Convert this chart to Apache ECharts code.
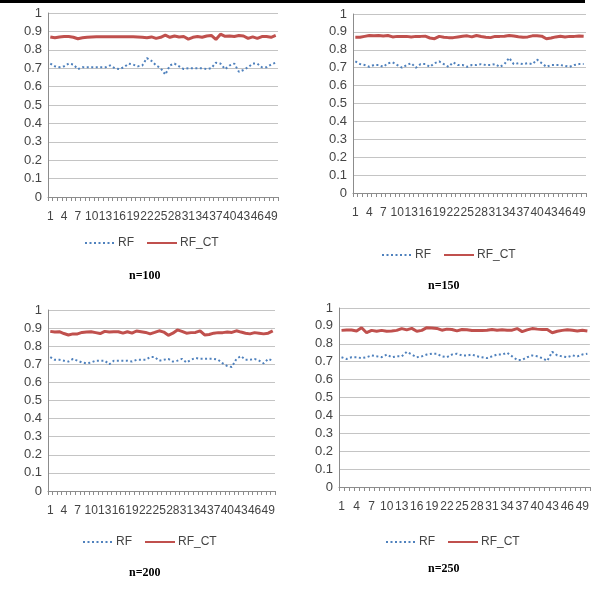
<!DOCTYPE html>
<html>
<head>
<meta charset="utf-8">
<script src="https://cdn.jsdelivr.net/npm/echarts@6/dist/echarts.min.js"></script>
<style>
html,body{margin:0;padding:0;background:#fff;}
#chart{width:592px;height:603px;}
</style>
</head>
<body>
<div id="chart"></div>
<script>
const categories = ['1','2','3','4','5','6','7','8','9','10','11','12','13','14','15','16','17','18','19','20','21','22','23','24','25','26','27','28','29','30','31','32','33','34','35','36','37','38','39','40','41','42','43','44','45','46','47','48','49','50'];
const seriesNames = ['RF', 'RF_CT'];
const panelTitles = ['n=100', 'n=150', 'n=200', 'n=250'];

const rf100 = [0.725,0.71,0.705,0.71,0.725,0.72,0.695,0.705,0.705,0.705,0.705,0.705,0.705,0.715,0.70,0.695,0.705,0.725,0.72,0.71,0.715,0.755,0.74,0.715,0.70,0.665,0.715,0.725,0.71,0.695,0.70,0.70,0.70,0.70,0.695,0.70,0.73,0.725,0.695,0.715,0.725,0.68,0.69,0.705,0.725,0.725,0.705,0.705,0.72,0.73];
const rfct100 = [0.87,0.865,0.87,0.872,0.872,0.868,0.86,0.865,0.868,0.87,0.871,0.871,0.871,0.871,0.871,0.871,0.871,0.871,0.871,0.87,0.868,0.865,0.87,0.862,0.868,0.88,0.868,0.875,0.87,0.872,0.858,0.868,0.872,0.868,0.875,0.878,0.856,0.885,0.873,0.875,0.872,0.878,0.875,0.862,0.87,0.862,0.872,0.872,0.868,0.878];

const rf150 = [0.735,0.72,0.715,0.705,0.715,0.715,0.705,0.725,0.73,0.715,0.70,0.715,0.725,0.70,0.72,0.72,0.705,0.725,0.735,0.72,0.705,0.73,0.715,0.715,0.705,0.715,0.715,0.72,0.715,0.715,0.72,0.705,0.72,0.755,0.72,0.725,0.72,0.725,0.72,0.745,0.725,0.705,0.715,0.715,0.715,0.71,0.705,0.715,0.72,0.72];
const rfct150 = [0.87,0.87,0.875,0.88,0.878,0.88,0.877,0.88,0.872,0.875,0.875,0.875,0.872,0.875,0.875,0.876,0.866,0.862,0.875,0.87,0.868,0.868,0.872,0.876,0.878,0.872,0.88,0.874,0.87,0.868,0.875,0.875,0.876,0.88,0.877,0.873,0.87,0.872,0.878,0.878,0.876,0.862,0.866,0.872,0.876,0.872,0.875,0.875,0.877,0.876];

const rf200 = [0.74,0.725,0.725,0.72,0.715,0.73,0.72,0.71,0.705,0.71,0.72,0.72,0.72,0.70,0.72,0.72,0.72,0.72,0.715,0.725,0.725,0.725,0.74,0.74,0.72,0.725,0.73,0.715,0.72,0.73,0.71,0.725,0.735,0.73,0.73,0.73,0.73,0.725,0.705,0.69,0.685,0.73,0.745,0.725,0.725,0.73,0.72,0.705,0.73,0.72];
const rfct200 = [0.882,0.878,0.88,0.87,0.862,0.868,0.868,0.876,0.878,0.88,0.875,0.87,0.882,0.878,0.88,0.88,0.872,0.88,0.872,0.884,0.88,0.876,0.868,0.876,0.885,0.878,0.86,0.872,0.89,0.882,0.872,0.875,0.876,0.885,0.862,0.865,0.872,0.875,0.875,0.878,0.876,0.885,0.878,0.872,0.868,0.875,0.872,0.868,0.872,0.885];

const rf250 = [0.725,0.715,0.725,0.725,0.72,0.725,0.735,0.73,0.725,0.74,0.725,0.73,0.73,0.755,0.74,0.725,0.73,0.74,0.745,0.745,0.73,0.725,0.74,0.745,0.735,0.735,0.74,0.73,0.725,0.72,0.73,0.74,0.74,0.75,0.73,0.71,0.71,0.725,0.735,0.73,0.72,0.705,0.755,0.735,0.73,0.725,0.735,0.73,0.74,0.745];
const rfct250 = [0.875,0.877,0.877,0.872,0.89,0.862,0.875,0.87,0.875,0.87,0.872,0.875,0.885,0.878,0.886,0.87,0.875,0.89,0.888,0.886,0.876,0.882,0.88,0.872,0.88,0.878,0.874,0.874,0.874,0.876,0.88,0.876,0.878,0.876,0.876,0.885,0.868,0.878,0.885,0.882,0.88,0.88,0.862,0.87,0.875,0.878,0.876,0.872,0.876,0.872];

const panels = [
  {rf: rf100, ct: rfct100, title: panelTitles[0], grid:{left:48, top:13, width:230, height:184}, legend:{left:84, top:237}, titlePos:{left:129, top:270}},
  {rf: rf150, ct: rfct150, title: panelTitles[1], grid:{left:353, top:14, width:233, height:179}, legend:{left:381, top:249}, titlePos:{left:428, top:280}},
  {rf: rf200, ct: rfct200, title: panelTitles[2], grid:{left:48, top:310, width:227, height:181}, legend:{left:82, top:536}, titlePos:{left:129, top:567}},
  {rf: rf250, ct: rfct250, title: panelTitles[3], grid:{left:339, top:308, width:254, height:179}, legend:{left:385, top:536}, titlePos:{left:428, top:563}}
];

const axisGray = '#8c8c8c';
const textGray = '#444';
const option = {
  animation: false,
  backgroundColor: '#fff',
  grid: [], xAxis: [], yAxis: [], series: [], legend: [], title: [],
  graphic: [{type:'rect', shape:{x:0, y:0, width:585, height:3}, style:{fill:'#000'}}]
};

panels.forEach((p, i) => {
  option.grid.push(Object.assign({containLabel:false}, p.grid));
  option.xAxis.push({
    type:'category', gridIndex:i, data:categories, boundaryGap:true,
    axisLine:{lineStyle:{color:axisGray, width:1}},
    axisTick:{show:true, interval:0, length:4, lineStyle:{color:axisGray}},
    axisLabel:{interval:2, margin:14, fontSize:12, fontFamily:'Liberation Sans, Arial', color:textGray, hideOverlap:false},
    splitLine:{show:false}
  });
  option.yAxis.push({
    type:'value', gridIndex:i, min:0, max:1, interval:0.1,
    axisLine:{show:true, lineStyle:{color:axisGray, width:1}},
    axisTick:{show:false},
    axisLabel:{margin:6, fontSize:13, fontFamily:'Liberation Sans, Arial', color:textGray},
    splitLine:{lineStyle:{color:'#c4c4c4', width:1}}
  });
  option.series.push({
    name:seriesNames[0], type:'line', xAxisIndex:i, yAxisIndex:i, data:p.rf,
    symbol:'none',
    lineStyle:{color:'#4f81bd', width:2, type:[2,2.5]}, itemStyle:{color:'#4f81bd'}
  });
  option.series.push({
    name:seriesNames[1], type:'line', xAxisIndex:i, yAxisIndex:i, data:p.ct,
    symbol:'none',
    lineStyle:{color:'#c0504d', width:3}, itemStyle:{color:'#c0504d'}
  });
  option.legend.push({
    data:seriesNames, left:p.legend.left, top:p.legend.top, orient:'horizontal',
    itemWidth:30, itemHeight:10, itemGap:12, padding:0, selectedMode:false,
    itemStyle:{opacity:0},
    textStyle:{fontSize:12, fontFamily:'Liberation Sans, Arial', color:textGray, padding:[0,0,0,-2]}
  });
  option.title.push({
    text:p.title, left:p.titlePos.left, top:p.titlePos.top, padding:0,
    textStyle:{fontSize:12, fontWeight:'bold', fontFamily:'Liberation Serif, Times New Roman', color:'#000'}
  });
});

const chart = echarts.init(document.getElementById('chart'), null, {renderer:'canvas'});
chart.setOption(option);
</script>
</body>
</html>
